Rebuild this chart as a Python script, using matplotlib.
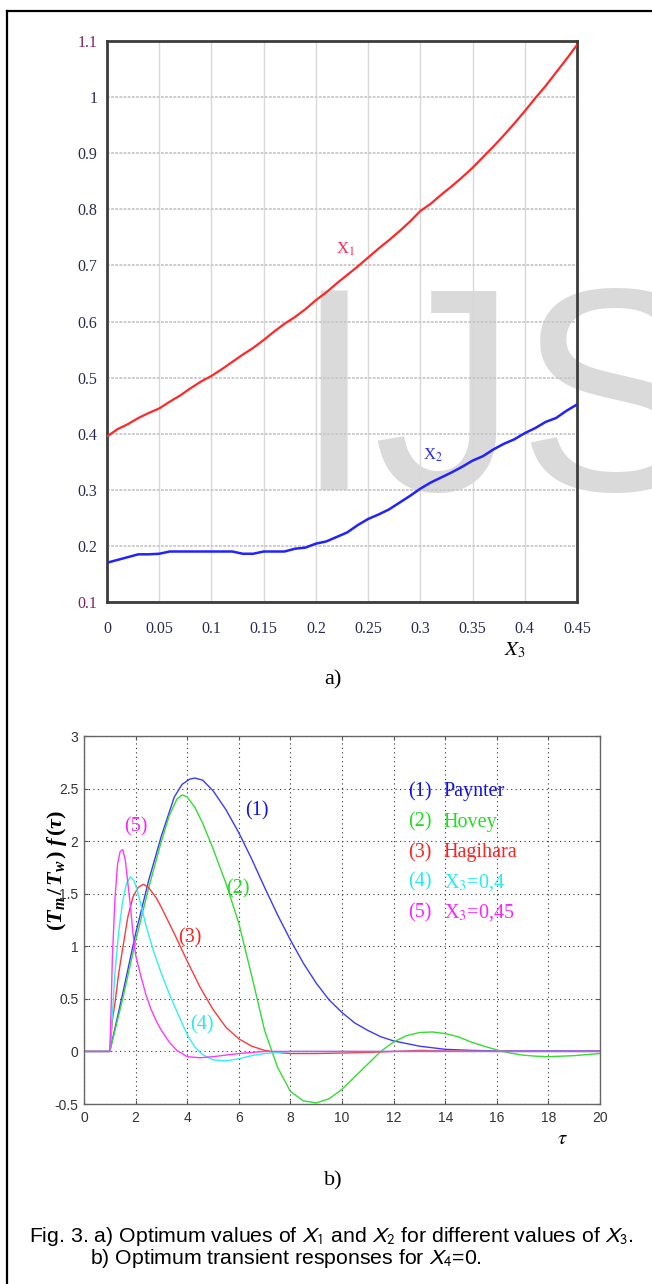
import numpy as np
import matplotlib
matplotlib.use("Agg")
import matplotlib.pyplot as plt
from matplotlib.lines import Line2D

# ---- data: chart a) ----
x3 = [0.00, 0.01, 0.02, 0.03, 0.04, 0.05, 0.06, 0.07, 0.08, 0.09,
      0.10, 0.11, 0.12, 0.13, 0.14, 0.15, 0.16, 0.17, 0.18, 0.19,
      0.20, 0.21, 0.22, 0.23, 0.24, 0.25, 0.26, 0.27, 0.28, 0.29,
      0.30, 0.31, 0.32, 0.33, 0.34, 0.35, 0.36, 0.37, 0.38, 0.39,
      0.40, 0.41, 0.42, 0.43, 0.44, 0.45]
x1_opt = [0.395, 0.408, 0.417, 0.428, 0.437, 0.445, 0.457, 0.468, 0.481, 0.493,
          0.503, 0.515, 0.528, 0.541, 0.553, 0.567, 0.582, 0.596, 0.608, 0.622,
          0.638, 0.652, 0.668, 0.683, 0.698, 0.714, 0.730, 0.745, 0.761, 0.778,
          0.797, 0.810, 0.826, 0.841, 0.857, 0.874, 0.893, 0.912, 0.932, 0.953,
          0.975, 0.998, 1.020, 1.044, 1.068, 1.093]
x2_opt = [0.170, 0.175, 0.180, 0.185, 0.185, 0.186, 0.190, 0.190, 0.190, 0.190,
          0.190, 0.190, 0.190, 0.186, 0.186, 0.190, 0.190, 0.190, 0.195, 0.197,
          0.204, 0.208, 0.216, 0.224, 0.237, 0.248, 0.256, 0.265, 0.277, 0.289,
          0.302, 0.313, 0.322, 0.331, 0.341, 0.352, 0.360, 0.372, 0.382, 0.390,
          0.401, 0.410, 0.421, 0.428, 0.441, 0.452]
a_xticks = [0, 0.05, 0.1, 0.15, 0.2, 0.25, 0.3, 0.35, 0.4, 0.45]
a_xticklabels = ['0', '0.05', '0.1', '0.15', '0.2', '0.25', '0.3', '0.35', '0.4', '0.45']
a_yticks = [0.1, 0.2, 0.3, 0.4, 0.5, 0.6, 0.7, 0.8, 0.9, 1.0, 1.1]
a_yticklabels = ['0.1', '0.2', '0.3', '0.4', '0.5', '0.6', '0.7', '0.8', '0.9', '1', '1.1']

# ---- data: chart b) ----
t_paynter = [0, 1.0, 1.5, 2.0, 2.5, 3.0, 3.5, 3.8, 4.1, 4.3, 4.6, 5.0, 5.5, 6.0, 6.5, 7.0,
             7.5, 8.0, 8.5, 9.0, 9.5, 10.0, 10.5, 11.0, 11.5, 12.0, 13.0, 14.0, 15.0,
             16.0, 18.0, 20.0]
f_paynter = [0, 0, 0.55, 1.12, 1.62, 2.05, 2.42, 2.54, 2.59, 2.60, 2.58, 2.48, 2.30, 2.08,
             1.83, 1.56, 1.30, 1.06, 0.84, 0.65, 0.49, 0.37, 0.27, 0.20, 0.14, 0.10, 0.05,
             0.02, 0.01, 0.005, 0.005, 0.005]

t_hovey = [0, 1.0, 1.5, 2.0, 2.5, 3.0, 3.3, 3.6, 3.8, 4.0, 4.3, 4.6, 5.0, 5.5, 6.0, 6.5,
           7.0, 7.5, 8.0, 8.5, 9.0, 9.5, 10.0, 10.5, 11.0, 11.5, 12.0, 12.5, 13.0, 13.5,
           14.0, 14.5, 15.0, 15.5, 16.0, 16.5, 17.0, 17.5, 18.0, 18.5, 19.0, 19.5, 20.0]
f_hovey = [0, 0, 0.50, 1.05, 1.55, 2.00, 2.24, 2.40, 2.44, 2.42, 2.32, 2.17, 1.93, 1.60,
           1.22, 0.72, 0.20, -0.15, -0.38, -0.47, -0.49, -0.45, -0.36, -0.24, -0.12, 0.0,
           0.09, 0.15, 0.18, 0.185, 0.17, 0.14, 0.09, 0.05, 0.015, -0.015, -0.035, -0.045,
           -0.05, -0.045, -0.04, -0.03, -0.02]

t_hagihara = [0, 1.0, 1.05, 1.1, 1.2, 1.35, 1.5, 1.7, 1.9, 2.1, 2.3, 2.5, 2.8, 3.0, 3.5,
              4.0, 4.5, 5.0, 5.5, 6.0, 6.5, 7.0, 7.5, 8.0, 9.0, 10.0, 11.0, 12.0, 13.0,
              14.0, 16.0, 18.0, 20.0]
f_hagihara = [0, 0, 0.15, 0.30, 0.46, 0.75, 0.98, 1.28, 1.47, 1.56, 1.59, 1.56, 1.46, 1.37,
              1.12, 0.86, 0.61, 0.40, 0.23, 0.12, 0.05, 0.01, -0.01, -0.02, -0.02, -0.015,
              -0.01, 0.0, 0.01, 0.005, 0.0, 0.0, 0.0]

t_x04 = [0, 1.0, 1.1, 1.2, 1.35, 1.5, 1.65, 1.8, 1.95, 2.1, 2.4, 2.7, 3.0, 3.3, 3.6, 4.0,
         4.3, 4.6, 5.0, 5.5, 6.0, 6.5, 7.0, 8.0, 10.0, 12.0, 14.0, 16.0, 18.0, 20.0]
f_x04 = [0, 0, 0.35, 0.75, 1.15, 1.43, 1.60, 1.66, 1.62, 1.50, 1.20, 0.95, 0.74, 0.55,
         0.38, 0.16, 0.04, -0.03, -0.08, -0.09, -0.07, -0.04, -0.02, 0.0, 0.0, 0.0, 0.0,
         0.0, 0.0, 0.0]

t_x045 = [0, 1.0, 1.05, 1.1, 1.2, 1.3, 1.4, 1.5, 1.6, 1.7, 1.8, 1.9, 2.0, 2.2, 2.4, 2.6,
          2.8, 3.0, 3.3, 3.6, 4.0, 4.5, 5.0, 5.5, 6.0, 6.5, 7.0, 8.0, 10.0, 12.0, 14.0,
          16.0, 18.0, 20.0]
f_x045 = [0, 0, 0.40, 0.90, 1.45, 1.78, 1.90, 1.92, 1.82, 1.60, 1.38, 1.12, 0.92, 0.72,
          0.54, 0.40, 0.29, 0.20, 0.09, 0.01, -0.05, -0.06, -0.05, -0.035, -0.02, -0.01,
          0.0, 0.0, 0.0, 0.0, 0.0, 0.0, 0.0, 0.0]

b_xticks = [0, 2, 4, 6, 8, 10, 12, 14, 16, 18, 20]
b_yticks = [-0.5, 0, 0.5, 1, 1.5, 2, 2.5, 3]
b_yticklabels = ['-0.5', '0', '0.5', '1', '1.5', '2', '2.5', '3']

legend_nums = ['(1)', '(2)', '(3)', '(4)', '(5)']
legend_names = ['Paynter', 'Hovey', 'Hagihara', 'X$_3$=0,4', 'X$_3$=0,45']
curve_colors = ['#3a3aff', '#33dd33', '#ff3a3a', '#33f0f0', '#ff3aff']
text_colors = ['#1010ee', '#22dd22', '#ff2020', '#22eeee', '#ff22ff']

# ---- fonts ----
plt.rcParams['mathtext.fontset'] = 'custom'
plt.rcParams['mathtext.it'] = 'Liberation Serif:italic:bold'
plt.rcParams['mathtext.rm'] = 'Liberation Serif:bold'
plt.rcParams['mathtext.bf'] = 'Liberation Serif:bold'

W, H = 652, 1284
fig = plt.figure(figsize=(W / 100, H / 100), dpi=100)
fig.patch.set_facecolor('white')


def fx(px):
    return px / W


def fy(py):
    return 1 - py / H


# outer frame (left + top edges only)
fig.add_artist(Line2D([fx(7), fx(7)], [fy(11), 0], color='black', lw=1.6))
fig.add_artist(Line2D([fx(7), 1], [fy(11), fy(11)], color='black', lw=1.6))

# watermark
fig.text(fx(293), fy(490), 'IJSER', fontsize=208, family='Liberation Sans',
         color='#dadada', va='baseline', ha='left', zorder=-5)

# ================= chart a) =================
ax1 = fig.add_axes([fx(107), fy(602), fx(470), (602 - 41) / H])
ax1.set_facecolor('none')
ax1.set_xlim(0, 0.45)
ax1.set_ylim(0.1, 1.1)
ax1.plot(x3, x1_opt, color='#ff2828', lw=1.6, zorder=3)
ax1.plot(x3, x2_opt, color='#2222ff', lw=1.8, zorder=3)
ax1.set_xticks(a_xticks)
ax1.set_xticklabels(a_xticklabels)
ax1.set_yticks(a_yticks)
ax1.set_yticklabels(a_yticklabels)
ax1.tick_params(length=0, labelsize=11.5, labelcolor='#2a2a50')
ax1.tick_params(axis='x', pad=14)
ax1.tick_params(axis='y', pad=7)
for lab in ax1.get_xticklabels() + ax1.get_yticklabels():
    lab.set_family('Liberation Serif')
ylabs = ax1.get_yticklabels()
ylabs[0].set_color('#802060')
ylabs[-1].set_color('#802060')
ax1.grid(axis='y', color='#c8c8c8', lw=1.3, linestyle=(0, (1.5, 0.8)))
ax1.grid(axis='x', color='#d8d8d8', lw=1.0)
for s in ax1.spines.values():
    s.set_color('#3c3c3c')
    s.set_linewidth(2)
ax1.text(0.228, 0.728, 'X$_1$', color='#ff2850', fontsize=12, family='Liberation Serif',
         math_fontfamily='stix', ha='center', va='center')
ax1.text(0.312, 0.362, 'X$_2$', color='#2828ff', fontsize=12, family='Liberation Serif',
         math_fontfamily='stix', ha='center', va='center')

fig.text(fx(515), fy(650), '$X_3$', fontsize=15, math_fontfamily='stix',
         ha='center', va='center')
fig.text(fx(333), fy(680), 'a)', fontsize=16, family='Liberation Serif',
         ha='center', va='center')

# ================= chart b) =================
ax2 = fig.add_axes([fx(84), fy(1104), fx(516), 368 / H])
ax2.set_facecolor('none')
ax2.set_xlim(0, 20)
ax2.set_ylim(-0.5, 3)
series = [(t_paynter, f_paynter), (t_hovey, f_hovey), (t_hagihara, f_hagihara),
          (t_x04, f_x04), (t_x045, f_x045)]
for (tt, ff), c in zip(series, curve_colors):
    ax2.plot(tt, ff, color=c, lw=1.0)
ax2.set_xticks(b_xticks)
ax2.set_yticks(b_yticks)
ax2.set_yticklabels(b_yticklabels)
ax2.tick_params(direction='in', length=3, top=True, right=True, labelsize=10,
                labelcolor='#333333', color='#555555')
ax2.tick_params(axis='x', pad=5)
ax2.tick_params(axis='y', pad=4)
for lab in ax2.get_xticklabels() + ax2.get_yticklabels():
    lab.set_family('Liberation Sans')
ax2.grid(color='#333333', linestyle=(0, (1, 3)), lw=0.8)
for s in ax2.spines.values():
    s.set_color('#666666')
    s.set_linewidth(1.0)

# curve labels
curve_label_pos = [(6.7, 2.29), (5.95, 1.55), (4.1, 1.08), (4.55, 0.25), (2.0, 2.14)]
for lab, (tx, vy), c in zip(legend_nums, curve_label_pos, text_colors):
    ax2.text(tx, vy, lab, color=c, fontsize=14.5, family='Liberation Serif',
             ha='center', va='center')

# text legend
legend_rows = [2.47, 2.18, 1.89, 1.61, 1.32]
for num, name, vy, c in zip(legend_nums, legend_names, legend_rows, text_colors):
    ax2.text(12.55, vy, num, color=c, fontsize=14.5, family='Liberation Serif',
             ha='left', va='center')
    ax2.text(13.95, vy, name, color=c, fontsize=14.5, family='Liberation Serif',
             math_fontfamily='stix', ha='left', va='center')

fig.text(fx(57), fy(870), r'$(T_m\,/\,T_w\,)\;f\,(\tau)$', fontsize=16, rotation=90,
         ha='center', va='center')
fig.text(fx(562), fy(1138), r'$\tau$', fontsize=15, math_fontfamily='stix',
         ha='center', va='center')
fig.text(fx(333), fy(1181), 'b)', fontsize=16, family='Liberation Serif',
         ha='center', va='center')

# caption
fig.text(fx(29), fy(1236),
         'Fig. 3. a) Optimum values of $X_1$ and $X_2$ for different values of $X_3$.',
         fontsize=15.3, family='Liberation Sans', math_fontfamily='stixsans',
         ha='left', va='center')
fig.text(fx(90), fy(1259), 'b) Optimum transient responses for $X_4$=0.',
         fontsize=15.3, family='Liberation Sans', math_fontfamily='stixsans',
         ha='left', va='center')

fig.savefig('out.png', dpi=100)
